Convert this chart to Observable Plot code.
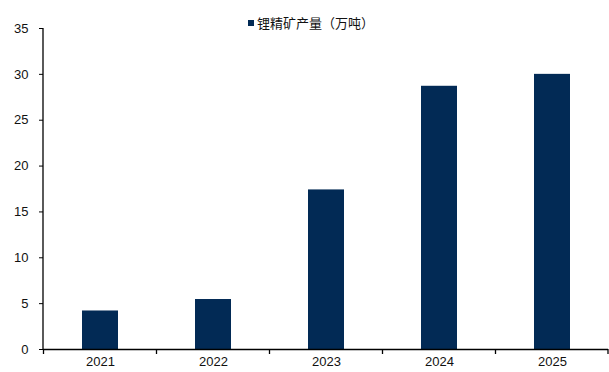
<!DOCTYPE html>
<html>
<head>
<meta charset="utf-8">
<script src="https://cdn.jsdelivr.net/npm/d3@7"></script>
<script src="https://cdn.jsdelivr.net/npm/@observablehq/plot@0.6"></script>
<style>
  html, body { margin: 0; padding: 0; background: #fff; }
  #wrap { position: relative; width: 609px; height: 372px; }
  #legend { position: absolute; left: 248px; top: 13px; font: 13px "Noto Sans CJK SC", sans-serif; color: #111; display: flex; align-items: center; white-space: nowrap; }
  #legend .sw { width: 6px; height: 6px; background: #022a55; margin-right: 3px; }
</style>
</head>
<body>
<div id="wrap">
  <div id="legend"><span class="sw"></span><span id="legendText"></span></div>
</div>
<script>
const years = ["2021", "2022", "2023", "2024", "2025"];
const output = [4.2, 5.45, 17.4, 28.7, 30.0];
const seriesName = "锂精矿产量（万吨）";
const yTicks = [0, 5, 10, 15, 20, 25, 30, 35];

const data = years.map((y, i) => ({year: y, value: output[i]}));
document.getElementById("legendText").textContent = seriesName;

const plot = Plot.plot({
  width: 609,
  height: 372,
  marginLeft: 43,
  marginRight: 1,
  marginTop: 28,
  marginBottom: 23,
  style: {fontFamily: "Liberation Sans, Arial, sans-serif", fontSize: "13px", color: "#111", background: "#fff"},
  x: {domain: years, paddingInner: 0.685, paddingOuter: 0.3425, label: null},
  y: {domain: [0, 35], ticks: yTicks, label: null},
  marks: [
    Plot.barY(data, {x: "year", y: "value", fill: "#022a55"}),
    Plot.axisY({ticks: yTicks, tickSize: 4, tickPadding: 11, label: null, stroke: "#000"}),
    Plot.axisX({tickSize: 0, tickPadding: 7, label: null}),
    Plot.ruleY([0], {stroke: "#000", strokeWidth: 1.3})
  ]
});
document.getElementById("wrap").appendChild(plot);

// y axis line and category boundary ticks, positioned from Plot's own scales
const xs = plot.scale("x");
const ys = plot.scale("y");
const svg = d3.select(plot);
const x0 = xs.range[0], x1 = xs.range[1];
const yBase = ys.apply(0);
svg.append("line")
  .attr("x1", x0).attr("x2", x0)
  .attr("y1", ys.apply(35)).attr("y2", yBase)
  .attr("stroke", "#000").attr("stroke-width", 1.3);
const gap = (xs.step - xs.bandwidth) / 2;
const bounds = years.map(y => xs.apply(y) - gap).concat([x1]);
svg.append("g").selectAll("line").data(bounds).join("line")
  .attr("x1", d => d).attr("x2", d => d)
  .attr("y1", yBase).attr("y2", yBase + 5)
  .attr("stroke", "#000").attr("stroke-width", 1.3);
</script>
</body>
</html>
